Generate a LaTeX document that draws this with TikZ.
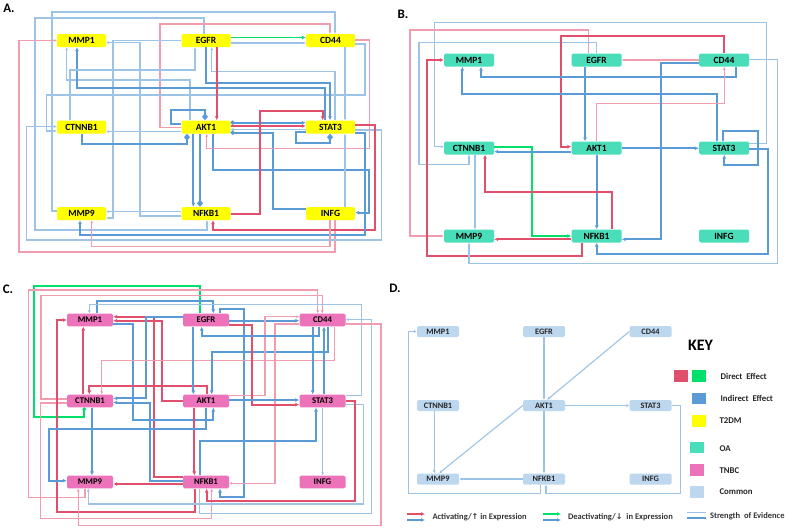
\documentclass[tikz,border=0pt]{standalone}
\usepackage{fontspec}
\setmainfont{Carlito}
\newfontfamily\symfont{DejaVu Sans}
\usetikzlibrary{arrows.meta}
\definecolor{t2dm}{HTML}{FFFF00}
\definecolor{oa}{HTML}{4ADDB9}
\definecolor{tnbc}{HTML}{EC72BA}
\definecolor{common}{HTML}{BDD7EE}
\definecolor{dirred}{HTML}{E0506D}
\definecolor{dirpink}{HTML}{F29CB0}
\definecolor{indblue}{HTML}{5B9BD5}
\definecolor{indlight}{HTML}{9DC3E6}
\definecolor{deactgreen}{HTML}{00E06A}
\tikzset{
  gene/.style={rounded corners=1.5pt, inner sep=0pt, minimum width=49pt, minimum height=13pt,
    font=\bfseries\fontsize{9.5}{10}\selectfont},
  t2dm/.style={gene, fill=t2dm},
  oa/.style={gene, fill=oa, minimum width=50pt},
  tnbc/.style={gene, fill=tnbc, minimum width=46pt, minimum height=12.7pt,
    font=\bfseries\fontsize{8.7}{9}\selectfont},
  common/.style={gene, fill=common, minimum width=42pt, minimum height=11pt, text=black!85,
    font=\bfseries\fontsize{8.3}{9}\selectfont},
  dirstrong/.style={draw=dirred, line width=2pt, -{Latex[length=4pt,width=4pt]}},
  dirweak/.style={draw=dirpink, line width=1.1pt, -{Latex[length=3pt,width=3pt]}},
  indstrong/.style={draw=indblue, line width=2pt, -{Latex[length=4pt,width=4pt]}},
  indweak/.style={draw=indlight, line width=1.1pt, -{Latex[length=3pt,width=3pt]}},
  deact/.style={draw=deactgreen, line width=1.7pt, -{Latex[length=4pt,width=4pt]}},
  panel/.style={font=\bfseries\fontsize{13}{13}\selectfont},
  keybox/.style={minimum width=14pt, minimum height=11.5pt, inner sep=0pt},
  keytext/.style={anchor=west, text=black!85, font=\bfseries\fontsize{8.8}{9}\selectfont},
  legtext/.style={anchor=west, text=black!80, font=\bfseries\fontsize{8.5}{9}\selectfont},
}

\begin{document}
\begin{tikzpicture}[x=1pt, y=-1pt]
\useasboundingbox (0,0) rectangle (789,528);

\node[panel] (labA) at (9,8) {A.};
\node[panel] (labB) at (403,14) {B.};
\node[panel] (labC) at (8,289) {C.};
\node[panel] (labD) at (395,288) {D.};

% A. T2DM
\node[t2dm] (aMMP1) at (81.5,40.5) {MMP1};
\node[t2dm] (aEGFR) at (206,40.5) {EGFR};
\node[t2dm] (aCD44) at (330.5,40.5) {CD44};
\node[t2dm] (aCTNNB1) at (81.5,127) {CTNNB1};
\node[t2dm] (aAKT1) at (206,127) {AKT1};
\node[t2dm] (aSTAT3) at (330.5,127) {STAT3};
\node[t2dm] (aMMP9) at (81.5,213.5) {MMP9};
\node[t2dm] (aNFKB1) at (206,213.5) {NFKB1};
\node[t2dm] (aINFG) at (330.5,213.5) {INFG};

\draw[indweak] (aMMP9.west |- 0,211) -| (52,12) -| (aCD44.north -| 335,0);
\draw[indweak] (aEGFR.north -| 204,0) |- (35,18) |- (207,230) -- (aNFKB1.south -| 207,0);
\draw[dirweak] (aAKT1.west |- 0,127.5) -| (160,24) -| (aCD44.north -| 330,0);
\draw[dirweak] (aINFG.south -| 335,0) |- (19,252) |- (aMMP1.west |- 0,40.5);
\draw[deact] (aEGFR.east |- 0,37.5) -- (aCD44.west |- 0,37.5);
\draw[indweak] (aEGFR.east |- 0,43) -- (aCD44.west |- 0,43);
\draw[indweak] (aEGFR.west |- 0,40.5) -| (113,218) -- (aMMP9.east |- 0,218);
\draw[indweak] (aNFKB1.west |- 0,216) -| (140,42.5) -- (aMMP1.east |- 0,42.5);
\draw[indweak] (aNFKB1.west |- 0,211.5) -- (aMMP9.east |- 0,211.5);
\draw[indweak] (aCD44.east |- 0,44) -| (365,95) -| (46.7,131) -- (aCTNNB1.west |- 0,131);
\draw[indweak] (aSTAT3.east |- 0,130) -| (381.7,240) -| (26.7,126.5) -- (aCTNNB1.west |- 0,126.5);
\draw[indweak] (aAKT1.north -| 190,0) |- (66.7,80) -- (aMMP1.south -| 66.7,0);
\draw[indstrong] (aSTAT3.north -| 325,0) |- (77,88.3) -- (aMMP1.south -| 77,0);
\draw[indstrong] (aEGFR.south -| 206,0) |- (330,83.3) -- (aSTAT3.north -| 330,0);
\draw[indweak] (aCTNNB1.north -| 70,0) |- (195,70) -- (aEGFR.south -| 195,0);
\draw[indweak] (aSTAT3.north -| 335,0) |- (211.7,71.7) -- (aEGFR.south -| 211.7,0);
\draw[dirstrong] (aEGFR.south -| 216.7,0) -- (aAKT1.north -| 216.7,0);
\draw[indstrong, -{Diamond[length=7pt,width=6pt]}] (aAKT1.west |- 0,123.5) -| (170.7,110) -| (aAKT1.north -| 205,0);
\draw[indstrong, -{Diamond[length=7pt,width=6pt]}] (aCTNNB1.south -| 81.7,0) |- (187,144) -- (aAKT1.south -| 187,0);
\draw[indweak] (aAKT1.west |- 0,131.5) -- (aCTNNB1.east |- 0,131.5);
\draw[indstrong, {Circle[length=4pt]}-{Latex[length=4pt,width=4pt]}] (aAKT1.east |- 0,122.7) -- (aSTAT3.west |- 0,122.7);
\draw[dirstrong] (aAKT1.east |- 0,126) -- (aSTAT3.west |- 0,126);
\draw[indweak] (aSTAT3.west |- 0,129.5) -- (aAKT1.east |- 0,129.5);
\draw[indstrong, -{Circle[length=4pt]}] (aINFG.west |- 0,209.3) -| (273.3,132.7) -- (aAKT1.east |- 0,132.7);
\draw[indstrong] (aAKT1.south -| 213.3,0) |- (369.3,170) |- (aINFG.east |- 0,212.7);
\draw[indstrong] (aAKT1.south -| 193.3,0) -- (aNFKB1.north -| 193.3,0);
\draw[indstrong, -{Diamond[length=7pt,width=6pt]}] (aAKT1.south -| 200,0) -- (aNFKB1.north -| 200,0);
\draw[dirweak] (aCD44.east |- 0,40) -| (369.3,148.3) -| (aAKT1.south -| 206.7,0);
\draw[dirstrong] (aNFKB1.east |- 0,214) -| (260,110.7) -| (aSTAT3.north -| 322.7,0);
\draw[dirstrong] (aSTAT3.east |- 0,125) -| (375,230) -| (aNFKB1.south -| 213,0);
\draw[indstrong, -{Diamond[length=7pt,width=6pt]}] (aSTAT3.west |- 0,132) -| (295.7,142.7) -| (aSTAT3.south -| 330,0);
\draw[indweak] (aINFG.north -| 345,0) -- (aSTAT3.south -| 345,0);
\draw[indweak] (aCD44.south -| 345,0) -- (aSTAT3.north -| 345,0);
\draw[indstrong] (aSTAT3.east |- 0,133) -| (365,235) -| (aMMP9.south -| 80,0);
\draw[dirweak] (aINFG.south -| 330,0) |- (91.7,246.7) -- (aMMP9.south -| 91.7,0);

% B. OA
\node[oa] (bMMP1) at (469,60) {MMP1};
\node[oa] (bEGFR) at (596.5,60) {EGFR};
\node[oa] (bCD44) at (724,60) {CD44};
\node[oa] (bCTNNB1) at (469,148) {CTNNB1};
\node[oa] (bAKT1) at (596.5,148) {AKT1};
\node[oa] (bSTAT3) at (724,148) {STAT3};
\node[oa] (bMMP9) at (469,236) {MMP9};
\node[oa] (bNFKB1) at (596.5,236) {NFKB1};
\node[oa] (bINFG) at (724,236) {INFG};

\draw[indweak] (bSTAT3.east |- 0,143.3) -| (766.7,22.7) -| (434.3,146.7) -- (bCTNNB1.west |- 0,146.7);
\draw[dirweak] (bEGFR.north -| 588.3,0) |- (410,30) |- (bMMP9.west |- 0,236);
\draw[indweak] (bEGFR.north -| 596.7,0) |- (419,42.7) |- (469,164.3) -- (bCTNNB1.south -| 469,0);
\draw[dirstrong] (bCD44.north -| 724.3,0) |- (561,35.7) |- (bAKT1.west |- 0,146.7);
\draw[dirstrong] (bNFKB1.south -| 582.3,0) |- (426.7,256) |- (bMMP1.west |- 0,60);
\draw[dirweak] (bCD44.west |- 0,60) -- (bEGFR.east |- 0,60);
\draw[indstrong] (bEGFR.south -| 585,0) -- (bAKT1.north -| 585,0);
\draw[indstrong] (bCD44.south -| 735.7,0) |- (481,76.7) -- (bMMP1.south -| 481,0);
\draw[indstrong] (bSTAT3.north -| 716.7,0) |- (462.3,94) -- (bMMP1.south -| 462.3,0);
\draw[dirweak] (bAKT1.north -| 596.7,0) |- (724.3,103.3) -- (bCD44.south -| 724.3,0);
\draw[indstrong] (bCD44.west |- 0,62.7) -| (660.7,239.3) -- (bNFKB1.east |- 0,239.3);
\draw[indweak] (bCD44.east |- 0,59.3) -| (777.7,263.3) -| (bMMP9.south -| 469,0);
\draw[deact] (bCTNNB1.east |- 0,146.7) -| (531.7,236) -- (bNFKB1.west |- 0,236);
\draw[indstrong] (bAKT1.west |- 0,151.7) -- (bCTNNB1.east |- 0,151.7);
\draw[indstrong] (bAKT1.east |- 0,148.3) -- (bSTAT3.west |- 0,148.3);
\draw[indstrong] (bAKT1.south -| 596.7,0) -- (bNFKB1.north -| 596.7,0);
\draw[indweak] (bCTNNB1.south -| 475,0) -- (bMMP9.north -| 475,0);
\draw[dirstrong] (bNFKB1.north -| 612.3,0) |- (485,191.7) -- (bCTNNB1.south -| 485,0);
\draw[dirstrong] (bNFKB1.west |- 0,239.3) -- (bMMP9.east |- 0,239.3);
\draw[indstrong] (bSTAT3.north -| 723.3,0) |- (758.3,130.7) |- (724.3,165) -- (bSTAT3.south -| 724.3,0);
\draw[indstrong] (bSTAT3.east |- 0,149.3) -| (767.7,254) -| (bNFKB1.south -| 596.7,0);

% C. TNBC
\node[tnbc] (cMMP1) at (90,320) {MMP1};
\node[tnbc] (cEGFR) at (206,320) {EGFR};
\node[tnbc] (cCD44) at (322.5,320) {CD44};
\node[tnbc] (cCTNNB1) at (90,401) {CTNNB1};
\node[tnbc] (cAKT1) at (206,401) {AKT1};
\node[tnbc] (cSTAT3) at (322.5,401) {STAT3};
\node[tnbc] (cMMP9) at (90,482) {MMP9};
\node[tnbc] (cNFKB1) at (206,482) {NFKB1};
\node[tnbc] (cINFG) at (322.5,482) {INFG};

\draw[deact, -{Circle[length=3.5pt]}] (cEGFR.north -| 200,0) |- (34.3,285.7) |- (84.3,416.7) -- (cCTNNB1.south -| 84.3,0);
\draw[dirweak] (cMMP9.south -| 85,0) |- (28.3,497.3) |- (317.7,290) -- (cCD44.north -| 317.7,0);
\draw[dirweak] (cCTNNB1.west |- 0,399) -| (41,295.7) -| (cCD44.north -| 322.3,0);
\draw[dirweak] (cCTNNB1.west |- 0,403) -| (40.7,518.3) -| (cNFKB1.south -| 211.7,0);
\draw[indstrong] (cMMP1.north -| 96.7,0) |- (213.3,300.7) -- (cEGFR.north -| 213.3,0);
\draw[indweak] (cSTAT3.east |- 0,395.7) -| (361.7,304.7) -| (cMMP1.north -| 89.3,0);
\draw[indstrong] (cEGFR.north -| 220,0) |- (244.3,309) |- (220,497.3) -- (cNFKB1.south -| 220,0);
\draw[dirstrong] (cNFKB1.west |- 0,477.3) -| (154,316.7) -- (cMMP1.east |- 0,316.7);
\draw[dirstrong] (cAKT1.west |- 0,400.7) -| (161.7,320.7) -- (cMMP1.east |- 0,320.7);
\draw[indstrong] (cMMP1.east |- 0,324) -| (133.3,420) -| (cAKT1.south -| 213.3,0);
\draw[indstrong] (cEGFR.west |- 0,317.3) -| (146,398.3) -- (cCTNNB1.east |- 0,398.3);
\draw[indstrong] (cNFKB1.west |- 0,480.7) -| (150,402.5) -- (cCTNNB1.east |- 0,402.5);
\draw[dirstrong] (cNFKB1.south -| 195,0) |- (57.3,512.3) |- (cMMP1.west |- 0,320);
\draw[dirstrong] (cCTNNB1.north -| 83.3,0) -- (cMMP1.south -| 83.3,0);
\draw[dirstrong] (cAKT1.north -| 206.7,0) |- (89.3,386) -- (cCTNNB1.north -| 89.3,0);
\draw[dirweak] (cCD44.south -| 334.3,0) |- (101.7,360.7) -- (cCTNNB1.north -| 101.7,0);
\draw[indstrong] (cEGFR.south -| 193.3,0) -- (cAKT1.north -| 193.3,0);
\draw[indstrong] (cCD44.south -| 328.3,0) |- (211.7,352.3) -- (cAKT1.north -| 211.7,0);
\draw[indstrong] (cEGFR.east |- 0,320.7) -- (cCD44.west |- 0,320.7);
\draw[dirweak] (cAKT1.east |- 0,395.7) -| (265,316.7) -- (cCD44.west |- 0,316.7);
\draw[dirweak] (cCD44.west |- 0,324) -| (275,483.3) -- (cNFKB1.east |- 0,483.3);
\draw[dirstrong] (cEGFR.east |- 0,324.5) -| (252.3,404.7) -- (cSTAT3.west |- 0,404.7);
\draw[indstrong] (cCD44.south -| 319,0) |- (201.7,335.7) -- (cEGFR.south -| 201.7,0);
\draw[indstrong] (cCD44.south -| 312.7,0) -- (cSTAT3.north -| 312.7,0);
\draw[indstrong] (cSTAT3.north -| 324,0) -- (cCD44.south -| 324,0);
\draw[indweak] (cNFKB1.south -| 199.3,0) |- (371.7,513.3) |- (cCD44.east |- 0,319.5);
\draw[dirweak] (cCD44.east |- 0,324) -| (381,525.7) -| (cMMP9.south -| 78.3,0);
\draw[indstrong] (cAKT1.east |- 0,400) -- (cSTAT3.west |- 0,400);
\draw[indweak] (cSTAT3.east |- 0,404.5) -| (363.3,504) -| (cMMP9.south -| 88.3,0);
\draw[dirstrong] (cSTAT3.east |- 0,400.5) -| (355,500.7) -| (cNFKB1.south -| 206.7,0);
\draw[indstrong] (cNFKB1.north -| 200,0) |- (316,440.7) -- (cSTAT3.south -| 316,0);
\draw[indweak] (cSTAT3.south -| 322.7,0) -- (cINFG.north -| 322.7,0);
\draw[dirstrong] (cAKT1.south -| 194.3,0) -- (cNFKB1.north -| 194.3,0);
\draw[dirstrong] (cNFKB1.west |- 0,484) -- (cMMP9.east |- 0,484);
\draw[indstrong] (cAKT1.south -| 206,0) |- (49.3,429) |- (cMMP9.west |- 0,480.7);
\draw[indstrong] (cCTNNB1.south -| 92,0) -- (cMMP9.north -| 92,0);

% D. common to all three
\node[common] (dMMP1) at (438,331.5) {MMP1};
\node[common] (dEGFR) at (544,331.5) {EGFR};
\node[common] (dCD44) at (650.5,331.5) {CD44};
\node[common] (dCTNNB1) at (438,405.5) {CTNNB1};
\node[common] (dAKT1) at (544,405.5) {AKT1};
\node[common] (dSTAT3) at (650.5,405.5) {STAT3};
\node[common] (dMMP9) at (438,479) {MMP9};
\node[common] (dNFKB1) at (544,479) {NFKB1};
\node[common] (dINFG) at (650.5,479) {INFG};

\draw[indweak] (dEGFR.south) -- (dAKT1.north);
\draw[indweak] (dCD44.west) -- (dAKT1.north -| 547,0);
\draw[indweak] (dAKT1.west) -- (dMMP9.north -| 439,0);
\draw[indweak] (dAKT1.east) -- (dSTAT3.west);
\draw[indweak] (dAKT1.south) -- (dNFKB1.north);
\draw[indweak] (dCTNNB1.south -| 434.3,0) -- (dMMP9.north -| 434.3,0);
\draw[indweak] (dNFKB1.west) -- (dMMP9.east);
\draw[indweak] (dNFKB1.south -| 540.7,0) |- (408.3,493.3) |- (dMMP1.west);
\draw[indweak] (dSTAT3.east) -| (680.3,493.3) -| (dNFKB1.south -| 546,0);

% key
\node[font=\bfseries\fontsize{16}{16}\selectfont] (keyTitle) at (700.5,345) {KEY};
\node[keybox, fill=dirred] (keyRed) at (681,376) {};
\node[keybox, fill=deactgreen] (keyGreen) at (699.3,376) {};
\node[keytext] (keyDirect) at (717,376) {Direct\ \ Effect};
\node[keybox, fill=indblue] (keyBlue) at (699.3,398.3) {};
\node[keytext] (keyIndirect) at (717,398.3) {Indirect\ \ Effect};
\node[keybox, fill=t2dm] (keyT2DM) at (698.7,420.8) {};
\node[keytext] (keyT2DMtext) at (716,420.5) {T2DM};
\node[keybox, fill=oa] (keyOA) at (697,447.5) {};
\node[keytext] (keyOAtext) at (716,449) {OA};
\node[keybox, fill=tnbc] (keyTNBC) at (697,470) {};
\node[keytext] (keyTNBCtext) at (716,470.7) {TNBC};
\node[keybox, fill=common] (keyCommon) at (697,492.2) {};
\node[keytext] (keyCommontext) at (716,491.5) {Common};

% legend along the bottom
\coordinate (legAct) at (407,514);
\coordinate (legDeact) at (543,514);
\coordinate (legStr) at (687,512.7);
\draw[dirstrong, line width=1.8pt] (legAct) -- ++(18,0);
\draw[indstrong, line width=1.8pt] ([yshift=-6pt]legAct) -- ++(18,0);
\node[legtext] (legActText) at (429,516.8) {Activating/{\symfont\fontsize{8}{9}\selectfont ↑}\ in Expression};
\draw[deact, line width=1.8pt] (legDeact) -- ++(18,0);
\draw[indstrong, line width=1.8pt] ([yshift=-6pt]legDeact) -- ++(18,0);
\node[legtext] (legDeactText) at (564.5,516.8) {Deactivating/{\symfont\fontsize{8}{9}\selectfont ↓}\ \ in Expression};
\draw[indweak, -] (legStr) -- ++(19,0);
\draw[indstrong, -] ([yshift=-5.6pt]legStr) -- ++(19,0);
\node[legtext] (legStrText) at (706.5,516) {Strength\ \ of Evidence};

\end{tikzpicture}
\end{document}
